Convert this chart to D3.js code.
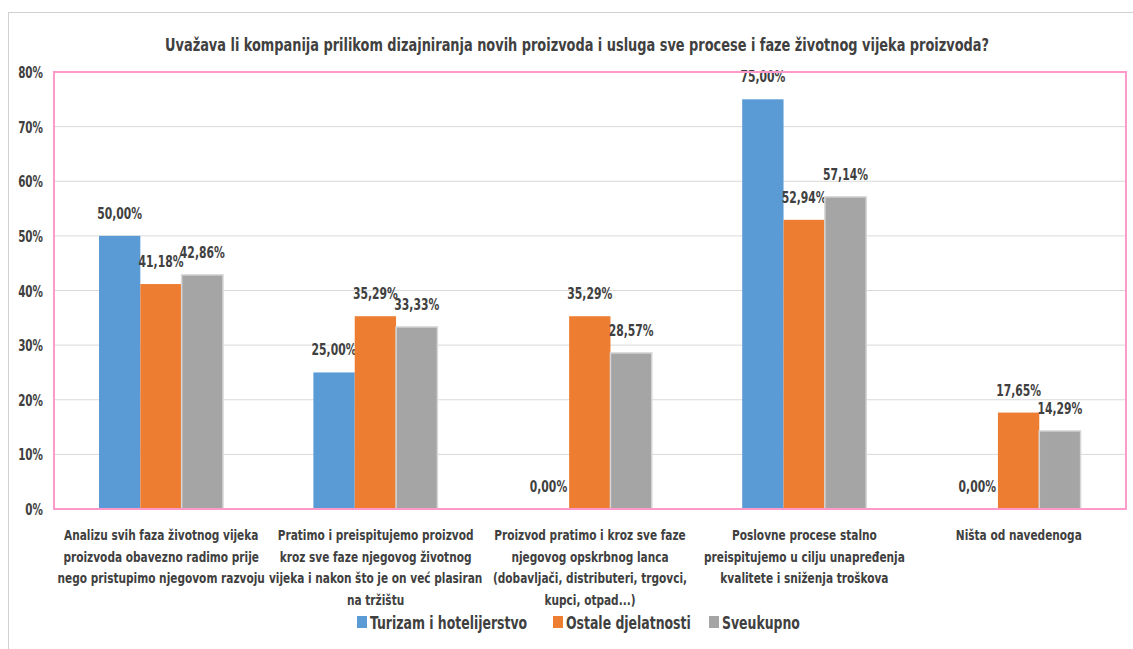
<!DOCTYPE html>
<html>
<head>
<meta charset="utf-8">
<script src="https://cdn.jsdelivr.net/npm/d3@7"></script>
<style>
  body { margin: 0; background: #fff; }
  text { font-family: "DejaVu Sans Condensed", "Liberation Sans", sans-serif; font-weight: bold; fill: #404040; }
</style>
</head>
<body>
<div id="chart"></div>
<script>
// chart data
var title = "Uvažava li kompanija prilikom dizajniranja novih proizvoda i usluga sve procese i faze životnog vijeka proizvoda?";
var categories = [
  ["Analizu svih faza životnog vijeka", "proizvoda obavezno radimo prije", "nego pristupimo njegovom razvoju"],
  ["Pratimo i preispitujemo proizvod", "kroz sve faze njegovog životnog", "vijeka i nakon što je on već plasiran", "na tržištu"],
  ["Proizvod pratimo i kroz sve faze", "njegovog opskrbnog lanca", "(dobavljači, distributeri, trgovci,", "kupci, otpad...)"],
  ["Poslovne procese stalno", "preispitujemo u cilju unapređenja", "kvalitete i sniženja troškova"],
  ["Ništa od navedenoga"]
];
var seriesNames = ["Turizam i hotelijerstvo", "Ostale djelatnosti", "Sveukupno"];
var turizam = [50.00, 25.00, 0.00, 75.00, 0.00];
var ostale = [41.18, 35.29, 35.29, 52.94, 17.65];
var sveukupno = [42.86, 33.33, 28.57, 57.14, 14.29];
var yTicks = [0, 10, 20, 30, 40, 50, 60, 70, 80];
var colors = ["#5B9BD5", "#ED7D31", "#A5A5A5"];

var W = 1133, H = 649;
var plot = {left: 54, top: 72, right: 1126, bottom: 509};

var svg = d3.select("#chart").append("svg")
  .attr("width", W)
  .attr("height", H);

// the original picture is stretched vertically, so text is squeezed in x
function narrow(parent, x, y, str, size, k, anchor){
  return parent.append("text")
    .attr("transform", "translate(" + x + "," + y + ") scale(" + k + ",1)")
    .attr("text-anchor", anchor || "middle")
    .style("font-size", size + "px")
    .text(str);
}

// outer frame (only left/top visible)
svg.append("rect")
  .attr("x", 8.5).attr("y", 12.5)
  .attr("width", 1300).attr("height", 800)
  .attr("fill", "none")
  .attr("stroke", "#d0d0d0")
  .attr("stroke-width", 1);

narrow(svg, 577, 51, title, 17, 0.845);

var idx = d3.range(categories.length);
var x0 = d3.scaleBand().domain(idx).range([plot.left, plot.right]);
var x1 = d3.scaleBand().domain(d3.range(seriesNames.length)).range([45, 169]);
var y = d3.scaleLinear().domain([0, 80]).range([plot.bottom, plot.top]);

// gridlines
svg.append("g").selectAll("line")
  .data(yTicks.slice(1, -1))
  .join("line")
  .attr("x1", plot.left).attr("x2", plot.right)
  .attr("y1", function(d){ return y(d); })
  .attr("y2", function(d){ return y(d); })
  .attr("stroke", "#d9d9d9")
  .attr("stroke-width", 1);

// y axis labels
var yAxis = d3.axisLeft(y).tickValues(yTicks).tickSize(0).tickPadding(10)
  .tickFormat(function(d){ return d + "%"; });
svg.append("g")
  .attr("transform", "translate(" + plot.left + ",0)")
  .call(yAxis)
  .call(function(g){ g.select(".domain").remove(); })
  .selectAll("text")
  .attr("x", null)
  .attr("dy", null)
  .attr("transform", "translate(-11,5.5) scale(0.77,1)")
  .style("font-size", "15px")
  .style("font-family", null)
  .attr("fill", null);

var allSeries = [turizam, ostale, sveukupno];

allSeries.forEach(function(vals, s){
  var g = svg.append("g");
  g.selectAll("rect")
    .data(vals)
    .join("rect")
    .attr("x", function(d, i){ return x0(i) + x1(s); })
    .attr("y", function(d){ return y(d); })
    .attr("width", x1.bandwidth())
    .attr("height", function(d){ return y(0) - y(d); })
    .attr("fill", colors[s])
    .attr("stroke", s == 2 ? "#d6d6d6" : "none")
    .attr("stroke-width", s == 2 ? 1.5 : 0);

  vals.forEach(function(d, i){
    narrow(g, x0(i) + x1(s) + x1.bandwidth()/2, y(d) - 17,
      d.toFixed(2).replace(".", ",") + "%", 15, 0.8);
  });
});

// plot border
svg.append("rect")
  .attr("x", plot.left).attr("y", plot.top)
  .attr("width", plot.right - plot.left)
  .attr("height", plot.bottom - plot.top)
  .attr("fill", "none")
  .attr("stroke", "#FF99CC")
  .attr("stroke-width", 2);

// category labels
var catG = svg.append("g");
categories.forEach(function(lines, i){
  lines.forEach(function(l, k){
    narrow(catG, x0(i) + x0.bandwidth()/2, 540 + k*21.5, l, 14, 0.84);
  });
});

// legend
var legendX = [357, 553, 709];
var leg = svg.append("g").selectAll("g")
  .data(seriesNames)
  .join("g")
  .attr("transform", function(d, i){ return "translate(" + legendX[i] + ",616)"; });
leg.append("rect")
  .attr("width", 10).attr("height", 12)
  .attr("fill", function(d, i){ return colors[i]; });
leg.append("text")
  .attr("transform", "translate(13,12.5) scale(0.77,1)")
  .style("font-size", "18px")
  .text(function(d){ return d; });
</script>
</body>
</html>
